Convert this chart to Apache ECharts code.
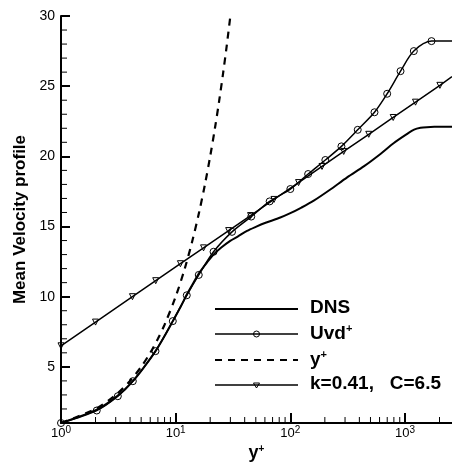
<!DOCTYPE html>
<html><head><meta charset="utf-8">
<script src="https://cdn.jsdelivr.net/npm/echarts@6/dist/echarts.min.js"></script>
<style>html,body{margin:0;padding:0;background:#fff}#c{width:452px;height:462px}</style>
</head><body><div id="c"></div>
<script>
// ---- data ----
const dnsYPlus = [1, 2.05, 3.13, 4.23, 5.3, 6.67, 8, 9.44, 11, 12.5, 14.3, 16.4, 18.8, 21.4, 25, 29.9, 35, 41.9, 50, 60, 81.8, 100, 125, 160, 220, 313, 440, 611, 800, 1045, 1200, 1366, 1550, 1800, 2570];
const dnsU     = [1.0, 1.95, 2.95, 3.98, 4.98, 6.12, 7.2, 8.26, 9.25, 10.15, 11.0, 11.8, 12.45, 13.0, 13.5, 13.98, 14.3, 14.69, 14.98, 15.25, 15.64, 15.95, 16.35, 16.84, 17.6, 18.5, 19.3, 20.17, 20.95, 21.6, 21.9, 22.03, 22.08, 22.1, 22.1];

const uvdYPlus = [1, 2.05, 3.13, 4.23, 6.67, 9.44, 12.5, 15.9, 21.4, 31, 45.6, 66, 100, 143, 202, 279, 387, 542, 699, 914, 1194, 1703, 2570];
const uvdU     = [1.0, 1.89, 2.91, 3.98, 6.12, 8.26, 10.1, 11.55, 13.2, 14.62, 15.71, 16.79, 17.67, 18.74, 19.74, 20.71, 21.89, 23.14, 24.46, 26.07, 27.5, 28.21, 28.22];

const linYPlus = [1, 2, 3, 4, 5, 6, 7, 8, 10, 12, 14, 16, 18, 20, 22, 24, 26, 28, 30];
const linU     = [1, 2, 3, 4, 5, 6, 7, 8, 10, 12, 14, 16, 18, 20, 22, 24, 26, 28, 30];

const logYPlus = [1, 2, 4.2, 6.7, 11, 17.5, 29, 45, 72, 118, 189, 292, 483, 789, 1235, 2015, 2570];
const logU     = [6.5, 8.19, 10.0, 11.14, 12.35, 13.48, 14.71, 15.78, 16.93, 18.13, 19.28, 20.35, 21.57, 22.77, 23.86, 25.06, 25.68];

const xMinorTicks = [2,3,4,5,6,7,8,9,20,30,40,50,60,70,80,90,200,300,400,500,600,700,800,900,2000];
const yMajorTicks = [5, 10, 15, 20, 25, 30];
const yMinorTicks = [2,3,4,6,7,8,9,11,12,13,14,16,17,18,19,21,22,23,24,26,27,28,29];
const seriesNames = ['DNS', 'Uvd+', 'y+', 'k=0.41,   C=6.5'];

const X_MIN = 1, X_MAX = 2570, Y_MIN = 1, Y_MAX = 30;
const FONT = '"Liberation Sans", Arial, Helvetica, sans-serif';

const pairs = (xs, ys) => xs.map((x, i) => [x, ys[i]]);
const lastNoSymbol = (arr) => arr.map((p, i) => i === arr.length - 1 ? { value: p, symbol: 'none' } : p);

const chart = echarts.init(document.getElementById('c'), null, { renderer: 'canvas' });

const legendRows = [309, 334, 360, 385];
const legendGraphic = [];
const LX1 = 215, LX2 = 298, LTX = 310;
legendRows.forEach((y, i) => {
  legendGraphic.push({
    type: 'line', shape: { x1: LX1, y1: y, x2: LX2, y2: y },
    style: { stroke: '#000', lineWidth: i === 0 ? 2 : (i === 2 ? 2.2 : 1.5), lineDash: i === 2 ? [7, 6] : null }
  });
});
legendGraphic.push({ type: 'circle', shape: { cx: (LX1 + LX2) / 2, cy: legendRows[1], r: 3 }, style: { fill: 'none', stroke: '#000', lineWidth: 1 } });
legendGraphic.push({ type: 'polygon', shape: { points: [[(LX1+LX2)/2 - 3, legendRows[3] - 2], [(LX1+LX2)/2 + 3, legendRows[3] - 2], [(LX1+LX2)/2, legendRows[3] + 3]] }, style: { fill: 'none', stroke: '#000', lineWidth: 1 } });
const legText = ['{n|DNS}', '{n|Uvd}{s|+}', '{n|y}{s|+}', '{n|' + seriesNames[3] + '}'];
legendRows.forEach((y, i) => {
  legendGraphic.push({
    type: 'text', left: LTX, top: y - 11,
    style: {
      text: legText[i], fill: '#000',
      rich: {
        n: { fontFamily: FONT, fontSize: 19, fontWeight: 'bold', lineHeight: 22 },
        s: { fontFamily: FONT, fontSize: 11, fontWeight: 'bold', lineHeight: 22, verticalAlign: 'top', padding: [0,0,10,0] }
      }
    }
  });
});

const option = {
  animation: false,
  backgroundColor: '#fff',
  grid: { left: 61, right: 0, top: 16, bottom: 39, containLabel: false, outerBoundsMode: 'none' },
  xAxis: {
    type: 'log', logBase: 10, min: X_MIN, max: X_MAX,
    name: '{n|y}{s|+}', nameLocation: 'middle', nameGap: 14,
    nameTextStyle: {
      rich: {
        n: { fontFamily: FONT, fontSize: 18, fontWeight: 'bold', color: '#000' },
        s: { fontFamily: FONT, fontSize: 10, fontWeight: 'bold', color: '#000', verticalAlign: 'top' }
      }
    },
    axisLine: { show: true, onZero: false, lineStyle: { color: '#000', width: 2 } },
    axisTick: { show: true, inside: true, length: 10, lineStyle: { color: '#000', width: 2 } },
    splitLine: { show: false },
    minorTick: { show: false },
    axisLabel: {
      margin: 2, showMaxLabel: false, color: '#000',
      formatter: (v) => '{b|10}{s|' + Math.round(Math.log10(v)) + '}',
      rich: {
        b: { fontFamily: FONT, fontSize: 13, color: '#000', lineHeight: 16 },
        s: { fontFamily: FONT, fontSize: 10, color: '#000', verticalAlign: 'top', lineHeight: 16 }
      }
    }
  },
  yAxis: {
    type: 'value', min: Y_MIN, max: Y_MAX,
    name: 'Mean Velocity profile', nameLocation: 'middle', nameGap: 24,
    nameTextStyle: { fontFamily: FONT, fontSize: 17, fontWeight: 'bold', color: '#000' },
    axisLine: { show: true, onZero: false, lineStyle: { color: '#000', width: 2 } },
    axisTick: { show: true, inside: true, length: 9, customValues: yMajorTicks, lineStyle: { color: '#000', width: 2 } },
    axisLabel: { customValues: yMajorTicks, fontFamily: FONT, fontSize: 14, color: '#000', margin: 6 },
    splitLine: { show: false }
  },
  graphic: legendGraphic,
  series: [
    {
      name: seriesNames[0], type: 'line', data: pairs(dnsYPlus, dnsU),
      showSymbol: false, symbol: 'none', smooth: 0.3,
      lineStyle: { color: '#000', width: 2 }, z: 2
    },
    {
      name: seriesNames[1], type: 'line', data: lastNoSymbol(pairs(uvdYPlus, uvdU)),
      symbol: 'circle', symbolSize: 7, smooth: 0.3, showAllSymbol: true,
      itemStyle: { color: 'none', borderColor: '#000', borderWidth: 1 },
      lineStyle: { color: '#000', width: 1.5 }, z: 3
    },
    {
      name: seriesNames[2], type: 'line', data: pairs(linYPlus, linU),
      showSymbol: false, symbol: 'none', smooth: 0.3,
      lineStyle: { color: '#000', width: 2.2, type: [7, 6] }, z: 3
    },
    {
      name: seriesNames[3], type: 'line', data: lastNoSymbol(pairs(logYPlus, logU)),
      symbol: 'triangle', symbolRotate: 180, symbolSize: 6, showAllSymbol: true,
      itemStyle: { color: 'none', borderColor: '#000', borderWidth: 1 },
      lineStyle: { color: '#000', width: 1.5 }, z: 3
    },
    {
      name: 'xMinor', type: 'custom', data: xMinorTicks.map(v => [v, Y_MIN]), silent: true, clip: false,
      renderItem: (params, api) => {
        const p = api.coord([api.value(0), api.value(1)]);
        return { type: 'line', shape: { x1: p[0], y1: p[1], x2: p[0], y2: p[1] - 6 }, style: { stroke: '#000', lineWidth: 1 } };
      }, z: 5
    },
    {
      name: 'yMinor', type: 'custom', data: yMinorTicks.map(v => [X_MIN, v]), silent: true, clip: false,
      renderItem: (params, api) => {
        const p = api.coord([api.value(0), api.value(1)]);
        return { type: 'line', shape: { x1: p[0], y1: p[1], x2: p[0] + 6, y2: p[1] }, style: { stroke: '#000', lineWidth: 1 } };
      }, z: 5
    }
  ]
};
chart.setOption(option);
</script>
</body></html>
